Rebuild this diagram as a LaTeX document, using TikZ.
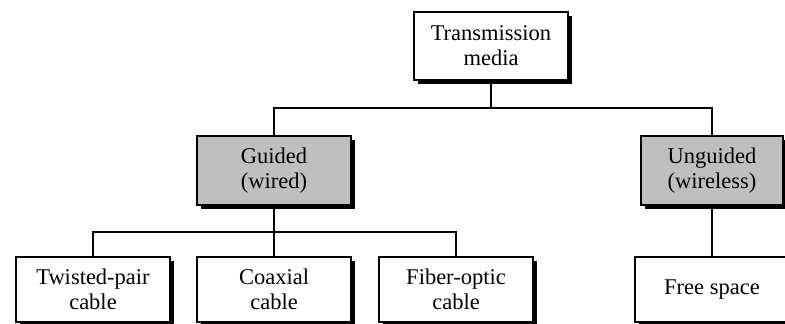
\documentclass[tikz,border=0pt]{standalone}
\usepackage{fontspec}
\setmainfont{Liberation Serif}
\usetikzlibrary{shadows}

\begin{document}
\begin{tikzpicture}[x=1pt,y={(0pt,-1pt)},
	box/.style={draw,line width=1.2pt,fill=white,minimum width=154pt,inner sep=0pt,align=center,
		font=\fontsize{22.5}{25}\selectfont,
		general shadow={fill=black,shadow xshift=3.5pt,shadow yshift=-3.5pt}},
	shaded/.style={box,fill=black!25},
	link/.style={line width=1.6pt}]
					\useasboundingbox (0,0) rectangle (785,324);
					
					%BOXES
					\node[box,minimum height=68pt] (media) at (491,46) {Transmission\\media};
					\node[shaded,minimum height=69pt] (guided) at (274,170.5) {Guided\\(wired)};
					\node[shaded,minimum height=69pt,minimum width=142pt] (unguided) at (712,170.5) {Unguided\\(wireless)};
					\node[box,minimum height=65pt] (twisted) at (93,289.5) {Twisted-pair\\cable};
					\node[box,minimum height=65pt] (coax) at (274,289.5) {Coaxial\\cable};
					\node[box,minimum height=65pt] (fiber) at (456,289.5) {Fiber-optic\\cable};
					\node[box,minimum height=65pt] (free) at (712,289.5) {Free space};
					
					%LINES
					\coordinate (upper) at (0,108);
					\coordinate (lower) at (0,232);
					\draw[link] (media.south) -- (media.south |- upper);
					\draw[link] (guided.north) -- (guided.north |- upper) -- (unguided.north |- upper) -- (unguided.north);
					\draw[link] (guided.south) -- (coax.north);
					\draw[link] (twisted.north) -- (twisted.north |- lower) -- (fiber.north |- lower) -- (fiber.north);
					\draw[link] (unguided.south) -- (free.north);
\end{tikzpicture}
\end{document}
